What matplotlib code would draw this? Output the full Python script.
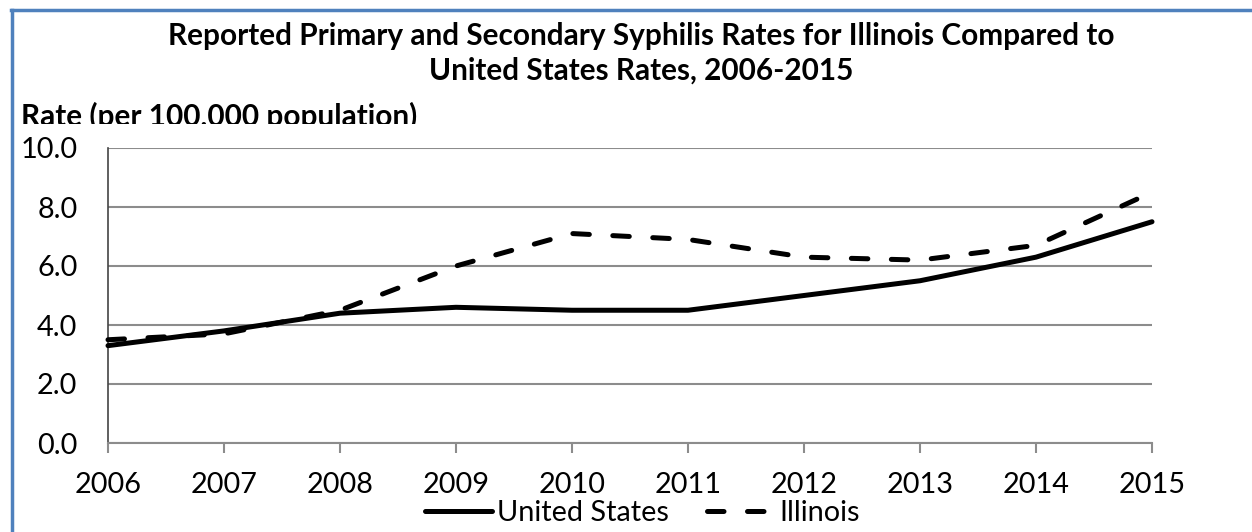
import numpy as np
import matplotlib
matplotlib.use("Agg")
import matplotlib.pyplot as plt
from matplotlib.patches import Rectangle
from matplotlib.lines import Line2D

years = [2006, 2007, 2008, 2009, 2010, 2011, 2012, 2013, 2014, 2015]
us_rate = [3.3, 3.8, 4.4, 4.6, 4.5, 4.5, 5.0, 5.5, 6.3, 7.5]
il_rate = [3.5, 3.7, 4.5, 6.0, 7.1, 6.9, 6.3, 6.2, 6.7, 8.5]
yticks = [0.0, 2.0, 4.0, 6.0, 8.0, 10.0]

plt.rcParams['font.family'] = ['Lato', 'DejaVu Sans']

lw = 3.6
dash = (0, (3.3, 4.7))
fs = 20.8

fig = plt.figure(figsize=(12.52, 5.32), dpi=100)
ax = fig.add_axes([108/1252, 1 - 443/532, (1152-108)/1252, (443-148)/532])

ax.plot(years, us_rate, color='black', lw=lw, solid_capstyle='round',
        solid_joinstyle='round', zorder=3, clip_on=False)
ax.plot(years, il_rate, color='black', lw=lw, linestyle=dash, dash_capstyle='round',
        dash_joinstyle='round', zorder=3, clip_on=False)

ax.set_xlim(2006, 2015)
ax.set_ylim(0, 10)
ax.set_xticks(years)
ax.set_yticks(yticks)
ax.set_yticklabels(["%.1f" % v for v in yticks])
ax.yaxis.grid(True, color='#8c8c8c', lw=1.5)
ax.set_axisbelow(True)
for s in ['top', 'right']:
    ax.spines[s].set_visible(False)
ax.spines['left'].set_color('#444444')
ax.spines['bottom'].set_color('#8c8c8c')
ax.spines['left'].set_linewidth(1.2)
ax.spines['bottom'].set_linewidth(1.5)
ax.tick_params(axis='y', length=0, pad=22, labelsize=fs)
ax.tick_params(axis='x', length=7.2, width=1.5, color='#8c8c8c', pad=14, labelsize=fs)

fig.text(0.512, 1 - 36/532, "Reported Primary and Secondary Syphilis Rates for Illinois Compared to",
         ha='center', va='center', fontsize=21.4, fontweight='bold')
fig.text(0.512, 1 - 71/532, "United States Rates, 2006-2015",
         ha='center', va='center', fontsize=21.4, fontweight='bold')
ylab = fig.text(21/1252, 1 - 116/532, "Rate (per 100,000 population)", ha='left', va='center',
                fontsize=21.4, fontweight='bold')
clip = Rectangle((0, 1 - 124/532), 1, 0.2, transform=fig.transFigure)
ylab.set_clip_path(clip)

handles = [Line2D([], [], color='black', lw=lw, solid_capstyle='round'),
           Line2D([], [], color='black', lw=lw, linestyle=dash, dash_capstyle='round')]
fig.legend(handles, ["United States", "Illinois"], loc='center', bbox_to_anchor=(0.513, 1 - 513/532),
           ncol=2, frameon=False, fontsize=fs, handlelength=2.3, handletextpad=0.2,
           columnspacing=1.3, borderpad=0)

# blue frame on left and top
fig.add_artist(Line2D([12/1252, 12/1252], [0, 1 - 10/532], color='#4f81bd', lw=2.5,
                      transform=fig.transFigure))
fig.add_artist(Line2D([11/1252, 1], [1 - 10/532, 1 - 10/532], color='#4f81bd', lw=2.5,
                      transform=fig.transFigure))

fig.savefig("out.png", dpi=100)
